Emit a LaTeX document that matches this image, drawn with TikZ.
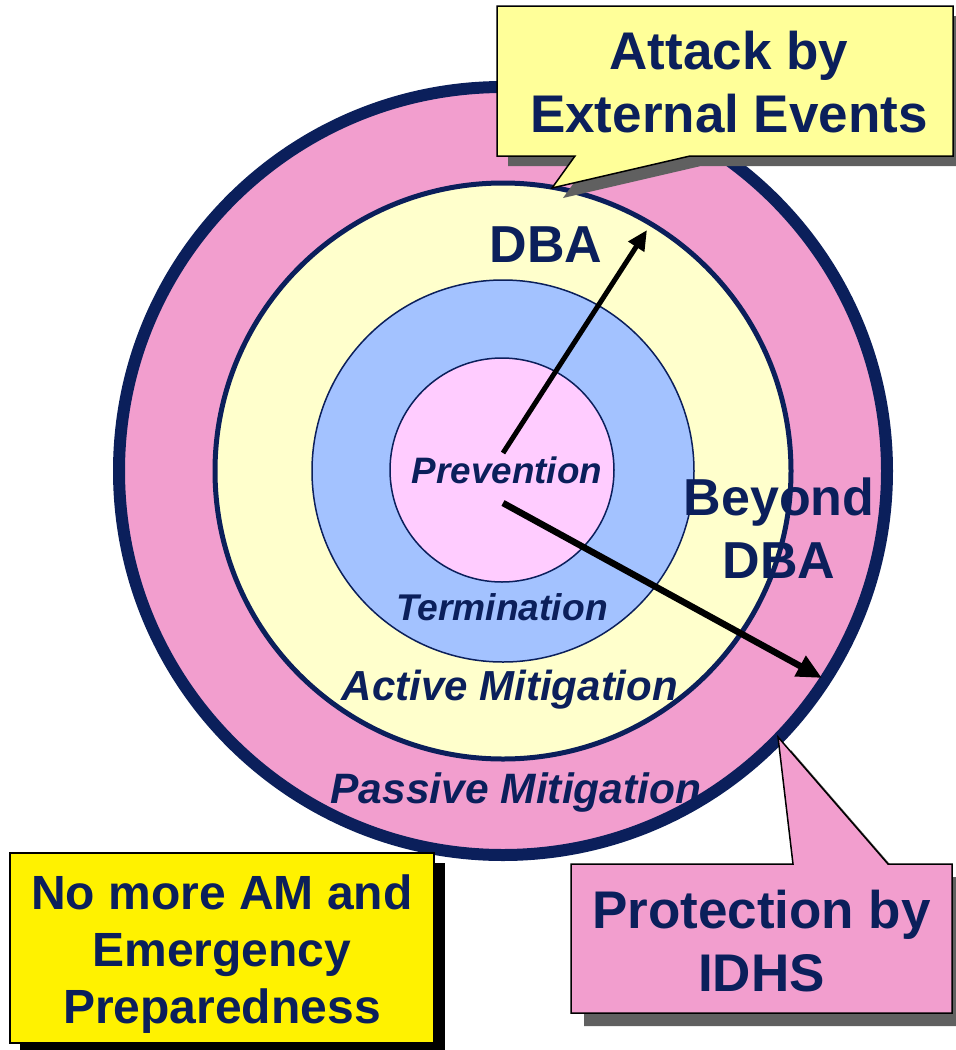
\documentclass[tikz,border=0pt]{standalone}
\usepackage{fontspec}
\setmainfont{Liberation Sans}
\usetikzlibrary{arrows.meta}

\definecolor{navy}{HTML}{0B1F5B}
\definecolor{ringpink}{HTML}{F29ECE}
\definecolor{ringyellow}{HTML}{FFFFCC}
\definecolor{ringblue}{HTML}{A3C2FF}
\definecolor{corepink}{HTML}{FFCCFF}
\definecolor{noteyellow}{HTML}{FFFF99}
\definecolor{shadowgray}{HTML}{606060}

\tikzset{
  bigtxt/.style={text=navy, font=\bfseries\fontsize{53}{63}\selectfont, align=center, inner sep=0pt},
  ringtxt/.style={text=navy, font=\bfseries\itshape\fontsize{#1}{#1}\selectfont, inner sep=0pt, anchor=base},
}

\begin{document}
\begin{tikzpicture}[x=1pt, y=-1pt]
  \def\cx{503} \def\cy{471}
  \useasboundingbox (0,0) rectangle (956,1050);

  % rings, outside in
  \draw[navy, line width=12pt, fill=ringpink] (\cx,\cy) circle (384);
  \draw[navy, line width=5pt, fill=ringyellow] (\cx,\cy) circle (288);
  \draw[navy, line width=1.5pt, fill=ringblue] (\cx,\cy) circle (191);
  \draw[navy, line width=1.5pt, fill=corepink] (502,470) circle (112);

  % ring labels
  \node[ringtxt=36.8] (prev) at (507,483) {Prevention};
  \node[ringtxt=37.2] (term) at (502,620) {Termination};
  \node[ringtxt=42] (active) at (510,700) {Active Mitigation};
  \node[ringtxt=42.5] (passive) at (516,803) {Passive Mitigation};
  \node[bigtxt, font=\bfseries\fontsize{52}{63}\selectfont, anchor=base] (dba) at (546,262) {DBA};
  \node[bigtxt, font=\bfseries\fontsize{52}{63}\selectfont] (beyond) at (779,528) {Beyond\\DBA};

  % arrows
  \coordinate (upS) at (503,453);
  \coordinate (upE) at (647,230);
  \coordinate (dnS) at (503,503);
  \coordinate (dnE) at (822,678);
  \draw[line width=5pt, -{Triangle[length=20pt, width=18pt]}] (upS) -- (upE);
  \draw[line width=6.5pt, -{Triangle[length=25pt, width=22pt]}] (dnS) -- (dnE);

  % Attack callout
  \fill[shadowgray, shift={(11,10)}] (497,6) -- (953,6) -- (953,156) -- (690,156) -- (552,188) -- (575,156) -- (497,156) -- cycle;
  \draw[black, line width=1.5pt, fill=noteyellow] (497,6) -- (953,6) -- (953,156) -- (690,156) -- (552,188) -- (575,156) -- (497,156) -- cycle;
  \node[bigtxt] (attack) at (729,82.5) {Attack by\\External Events};

  % Protection callout
  \fill[shadowgray, shift={(13,13)}] (571,864) -- (793,864) -- (778,737) -- (888,864) -- (952,864) -- (952,1013) -- (571,1013) -- cycle;
  \draw[black, line width=1.5pt, fill=ringpink] (571,864) -- (793,864) -- (778,737) -- (888,864) -- (952,864) -- (952,1013) -- (571,1013) -- cycle;
  \node[bigtxt] (prot) at (761.5,941) {Protection by\\IDHS};

  % AM box
  \fill[black] (20,863) rectangle (445,1053);
  \draw[black, line width=1.5pt, fill=yellow] (10,853) rectangle (434,1043);
  \node[bigtxt, font=\bfseries\fontsize{48}{57}\selectfont] (nomore) at (222,954) {No more AM and\\Emergency\\Preparedness};
\end{tikzpicture}
\end{document}
